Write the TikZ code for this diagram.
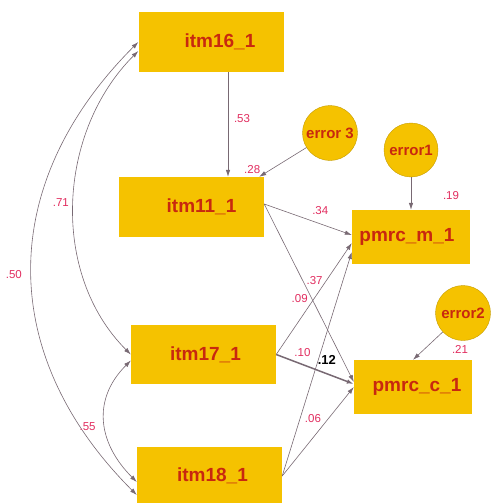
\documentclass[tikz,border=0pt]{standalone}
\usepackage{fontspec}
\setmainfont{Liberation Sans}
\usetikzlibrary{arrows.meta, calc}

\definecolor{boxgold}{RGB}{245,194,0}
\definecolor{namered}{RGB}{200,40,15}
\definecolor{estpink}{RGB}{225,45,95}
\definecolor{pathgray}{RGB}{120,105,115}

\tikzset{
	var/.style = {rectangle, fill=boxgold, minimum width=145pt, minimum height=60pt, inner sep=0pt,
		font=\bfseries\fontsize{19}{19}\selectfont, text=namered},
	err/.style = {circle, fill=boxgold, draw=boxgold!80!black, line width=0.4pt, minimum size=55pt, inner sep=0pt,
		font=\bfseries\fontsize{15}{15}\selectfont, text=namered},
	reg/.style = {draw=pathgray, line width=0.6pt, arrows={-Latex[length=7pt,width=4.5pt]}},
	cov/.style = {reg, arrows={Latex[length=7pt,width=4.5pt]-Latex[length=7pt,width=4.5pt]}},
	est/.style = {font=\fontsize{11.5}{11.5}\selectfont, text=estpink, inner sep=1pt}
}

\begin{document}
\begin{tikzpicture}[x=1pt, y=-1pt]
	\useasboundingbox (0,0) rectangle (494,503);

	\node[var] (itm16) at (211,42) {\hspace*{18pt}itm16\_1};
	\node[var] (itm11) at (191.5,207) {\hspace*{20pt}itm11\_1};
	\node[var, minimum height=59pt] (itm17) at (203.5,354.5) {\hspace*{4pt}itm17\_1};
	\node[var, minimum height=58pt] (itm18) at (209.5,476) {\hspace*{6pt}itm18\_1};
	\node[var, minimum width=118pt, minimum height=54pt] (pmrcm) at (411,237) {pmrc\_m\_1\hspace*{8pt}};
	\node[var, minimum width=118pt, minimum height=54pt] (pmrcc) at (413,387) {\hspace*{8pt}pmrc\_c\_1};

	\node[err] (err3) at (330,133) {error 3};
	\node[err, minimum size=54pt] (err1) at (411,150) {error1};
	\node[err] (err2) at (463,313) {error2};

	% error terms
	\draw[reg] ([xshift=17pt]itm16.south) -- ([xshift=17pt]itm16.south |- itm11.north)
		node[est, pos=.44, xshift=14pt] {.53};
	\draw[reg] (err3) -- ([xshift=-5pt]itm11.north east)
		node[est, pos=1, xshift=-7pt, yshift=7pt] {.28};
	\draw[reg] (err1) -- (pmrcm.north)
		node[est, pos=1, xshift=40pt, yshift=14pt] {.19};
	\draw[reg] (err2) -- (pmrcc.north)
		node[est, pos=1, xshift=47pt, yshift=10pt] {.21};

	% regressions
	\draw[reg] ([yshift=3pt]itm11.east) -- ([yshift=2pt]pmrcm.west)
		node[est, pos=.64, yshift=13pt] {.34};
	\draw[reg] ([yshift=3pt]itm11.east) -- ([yshift=5pt]pmrcc.west)
		node[est, pos=.53, xshift=-12pt] {.09};
	\draw[reg] (itm17.east) -- ([yshift=-6pt]pmrcm.west)
		node[est, pos=.667, xshift=-12pt] {.37};
	\draw[reg, line width=1.5pt] (itm17.east) -- ([yshift=3pt]pmrcc.west)
		node[est, pos=.64, xshift=1pt, yshift=13pt, text=black, font=\bfseries\fontsize{13}{13}\selectfont] {.12};
	\draw[reg] (itm18.east) -- ([yshift=-15pt]pmrcm.west)
		node[est, pos=.55, xshift=-18pt] {.10};
	\draw[reg] (itm18.east) -- (pmrcc.west)
		node[est, pos=.43, yshift=19pt] {.06};

	% covariances
	\draw[cov] (itm16.west) .. controls +(-141,141) and +(-141,-141) .. ([yshift=-19pt]itm18.west)
		node[est, pos=.5, xshift=-18pt, yshift=-6pt] {.50};
	\draw[cov] ([yshift=-9pt]itm16.west) .. controls +(-81,81) and +(-81,-81) .. (itm17.west)
		node[est, pos=.5, xshift=-13pt] {.71};
	\draw[cov] ([yshift=-6pt]itm17.west) .. controls +(-39,39) and +(-39,-39) .. ([yshift=-6pt]itm18.west)
		node[est, pos=.5, xshift=-17pt, yshift=-5pt] {.55};
\end{tikzpicture}
\end{document}
